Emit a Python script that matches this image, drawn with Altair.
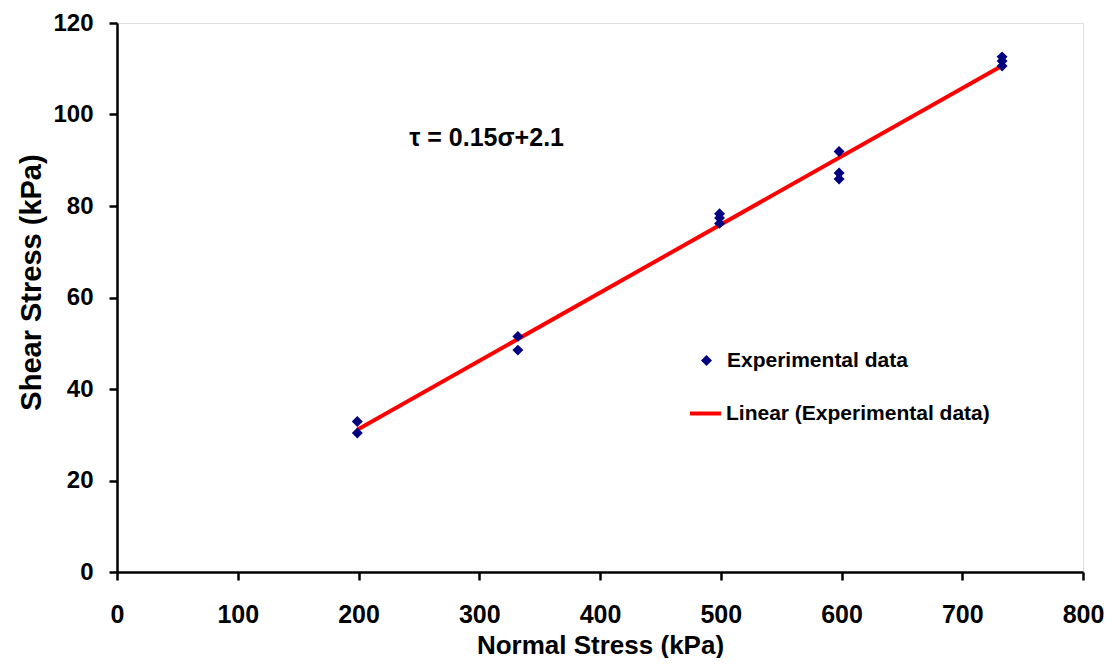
import altair as alt
import pandas as pd

sigma = [199, 199, 332, 332, 499, 499, 499, 598, 598, 598, 733, 733, 733]
tau = [32.9, 30.4, 51.5, 48.5, 78.3, 77.4, 76.2, 91.9, 87.2, 85.9, 112.6, 111.7, 110.6]

eq_text = ["τ = 0.15σ+2.1"]
eq_sigma = [242]
eq_tau = [94.8]

df = pd.DataFrame({"sigma": sigma, "tau": tau, "s1": "Experimental data", "s2": "Linear (Experimental data)"})
eq = pd.DataFrame({"sigma": eq_sigma, "tau": eq_tau, "t": eq_text})

FONT = "Liberation Sans"
xs = alt.Scale(domain=[0, 800], nice=False)
ys = alt.Scale(domain=[0, 120], nice=False)

xax = alt.Axis(values=list(range(0, 801, 100)), title="Normal Stress (kPa)", grid=False,
               domainColor="black", domainWidth=2.5, tickColor="black", tickWidth=2.5, tickSize=8,
               labelFlush=False, labelOverlap=False,
               labelFont=FONT, labelFontSize=25, labelFontWeight="bold", labelColor="black",
               labelPadding=22, titleFont=FONT, titleFontSize=26, titleFontWeight="bold",
               titleColor="black", titlePadding=5)
yax = alt.Axis(values=list(range(0, 121, 20)), title="Shear Stress (kPa)", grid=False,
               domainColor="black", domainWidth=2.5, tickColor="black", tickWidth=2.5, tickSize=8,
               labelFlush=False, labelOverlap=False,
               labelFont=FONT, labelFontSize=24, labelFontWeight="bold", labelColor="black",
               labelPadding=16, titleFont=FONT, titleFontSize=29, titleFontWeight="bold",
               titleColor="black", titlePadding=6, titleY=259)

base = alt.Chart(df)

line = base.transform_regression("sigma", "tau").transform_calculate(
    s2="'Linear (Experimental data)'"
).mark_line(strokeWidth=4).encode(
    x=alt.X("sigma:Q", scale=xs, axis=xax),
    y=alt.Y("tau:Q", scale=ys, axis=yax),
    stroke=alt.Stroke("s2:N", scale=alt.Scale(range=["#ff0000"]),
                      legend=alt.Legend(title=None, orient="none", legendX=571, legendY=373,
                                        symbolType="stroke", symbolStrokeWidth=4, symbolSize=960,
                                        labelFont=FONT, labelFontSize=21, labelFontWeight="bold",
                                        labelColor="black", labelOffset=3, labelLimit=400)),
)

pts = base.mark_point(shape="diamond", filled=True, size=120, opacity=1).encode(
    x=alt.X("sigma:Q", scale=xs, axis=xax),
    y=alt.Y("tau:Q", scale=ys, axis=yax),
    fill=alt.Fill("s1:N", scale=alt.Scale(range=["#000080"]),
                  legend=alt.Legend(title=None, orient="none", legendX=579, legendY=327,
                                    symbolType="diamond", symbolSize=120, symbolOpacity=1,
                                    labelFont=FONT, labelFontSize=21, labelFontWeight="bold",
                                    labelColor="black", labelOffset=10, labelLimit=400)),
)

txt = alt.Chart(eq).mark_text(align="left", baseline="middle", font=FONT, fontSize=25,
                              fontWeight="bold", color="black").encode(
    x=alt.X("sigma:Q", scale=xs), y=alt.Y("tau:Q", scale=ys), text="t:N"
)

chart = alt.layer(line, pts, txt).properties(
    width=966, height=549,
    autosize=alt.AutoSizeParams(type="none"),
    padding={"left": 109, "top": 15, "right": 24, "bottom": 86},
).configure_view(stroke=None).configure(background="white")

chart.save("out.html", embed_options={"renderer": "svg", "actions": False})
